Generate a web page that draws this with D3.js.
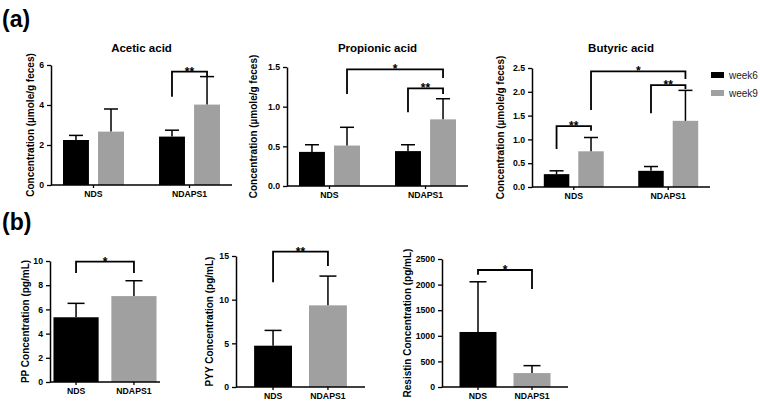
<!DOCTYPE html>
<html>
<head>
<meta charset="utf-8">
<script src="https://cdn.jsdelivr.net/npm/d3@7"></script>
<style>
  body { margin: 0; background: #fff; }
  svg { display: block; font-family: "Liberation Sans", Arial, sans-serif; }
</style>
</head>
<body>
<div id="chart"></div>
<script>
// ---- data ----
const groups = ["NDS", "NDAPS1"];
const weeks = ["week6", "week9"];

const aceticW6 = [2.25, 2.42];
const aceticW9 = [2.67, 4.02];
const aceticW6Err = [0.23, 0.32];
const aceticW9Err = [1.13, 1.40];

const propionicW6 = [0.43, 0.44];
const propionicW9 = [0.51, 0.84];
const propionicW6Err = [0.09, 0.08];
const propionicW9Err = [0.23, 0.26];

const butyricW6 = [0.27, 0.34];
const butyricW9 = [0.75, 1.39];
const butyricW6Err = [0.07, 0.09];
const butyricW9Err = [0.29, 0.64];

const ppMean = [5.35, 7.1];
const ppErr = [1.15, 1.27];
const pyyMean = [4.73, 9.35];
const pyyErr = [1.75, 3.35];
const resistinMean = [1075, 272];
const resistinErr = [980, 145];

// brackets: [from(group,series), to(group,series), level, leftLeg, rightLeg, label]
const aceticSig = [[[1,0],[1,1],5.67,4.41,5.4,"**"]];
const propionicSig = [[[0,1],[1,1],1.47,1.16,1.36,"*"],[[1,0],[1,1],1.23,0.93,1.16,"**"]];
const butyricSig = [[[0,0],[0,1],1.28,0.8,1.18,"**"],[[0,1],[1,1],2.43,1.62,2.27,"*"],[[1,0],[1,1],2.14,1.55,2.06,"**"]];
const ppSig = [[[0,0],[1,0],9.95,9.0,9.0,"*"]];
const pyySig = [[[0,0],[1,0],15.5,12.0,13.85,"**"]];
const resistinSig = [[[0,0],[1,0],2285,2190,1915,"*"]];

const colors = {week6: "#000000", week9: "#a0a0a0"};

const W = 760, H = 404;
const svg = d3.select("#chart").append("svg")
    .attr("width", W).attr("height", H);

svg.append("text").attr("x", 2).attr("y", 27)
    .attr("font-size", 23).attr("font-weight", "bold").text("(a)");
svg.append("text").attr("x", 2).attr("y", 230)
    .attr("font-size", 23).attr("font-weight", "bold").text("(b)");

// grouped bar chart (panel a)
function groupedChart(cfg){
    const g = svg.append("g");
    const x = d3.scaleBand().domain(groups).range([cfg.x0, cfg.x1])
        .paddingInner(0.365).paddingOuter(0.125);
    const xi = d3.scaleBand().domain(weeks).range([0, x.bandwidth()]).paddingInner(0.26);
    const y = d3.scaleLinear().domain([0, cfg.max]).range([cfg.y1, cfg.y0]);

    const rows = [];
    groups.forEach((grp, i) => {
        rows.push({grp, wk: "week6", v: cfg.w6[i], e: cfg.w6e[i]});
        rows.push({grp, wk: "week9", v: cfg.w9[i], e: cfg.w9e[i]});
    });
    const cx = d => x(d.grp) + xi(d.wk) + xi.bandwidth()/2;

    drawBarsAndAxes(g, rows, x, y, cfg, d => x(d.grp) + xi(d.wk), xi.bandwidth(), cx, 7);

    const pos = (p) => x(groups[p[0]]) + xi(weeks[p[1]]) + xi.bandwidth()/2;
    drawSig(g, cfg.sig, pos, y);

    g.append("text").attr("x", (cfg.x0 + cfg.x1)/2).attr("y", 52)
        .attr("text-anchor", "middle").attr("font-size", 11.5).attr("font-weight", "bold")
        .text(cfg.title);
}

// single bar chart (panel b)
function simpleChart(cfg){
    const g = svg.append("g");
    const x = d3.scaleBand().domain(groups).range([cfg.x0, cfg.x1])
        .paddingInner(cfg.pi).paddingOuter(cfg.po);
    const y = d3.scaleLinear().domain([0, cfg.max]).range([cfg.y1, cfg.y0]);
    const rows = groups.map((grp, i) => ({grp, wk: weeks[i], v: cfg.mean[i], e: cfg.err[i]}));
    const cx = d => x(d.grp) + x.bandwidth()/2;

    drawBarsAndAxes(g, rows, x, y, cfg, d => x(d.grp), x.bandwidth(), cx, 8.5);

    const pos = (p) => x(groups[p[0]]) + x.bandwidth()/2;
    drawSig(g, cfg.sig, pos, y);
}

function drawBarsAndAxes(g, rows, x, y, cfg, bx, bw, cx, cap){
    g.selectAll(".bar").data(rows).join("rect")
        .attr("class", "bar")
        .attr("x", bx).attr("width", bw)
        .attr("y", d => y(d.v)).attr("height", d => y(0) - y(d.v))
        .attr("fill", d => colors[d.wk]);

    // error bars (upper only)
    const eb = g.selectAll(".err").data(rows).join("g").attr("class", "err")
        .attr("stroke", "#000").attr("stroke-width", 1.5);
    eb.append("line")
        .attr("x1", cx).attr("x2", cx)
        .attr("y1", d => y(d.v)).attr("y2", d => y(d.v + d.e));
    eb.append("line")
        .attr("x1", d => cx(d) - cap).attr("x2", d => cx(d) + cap)
        .attr("y1", d => y(d.v + d.e)).attr("y2", d => y(d.v + d.e));

    const yAxis = g.append("g")
        .attr("transform", `translate(${cfg.x0},0)`)
        .call(d3.axisLeft(y).tickValues(cfg.ticks).tickFormat(cfg.fmt).tickSize(4).tickSizeOuter(0));
    const xAxis = g.append("g")
        .attr("transform", `translate(0,${cfg.y1})`)
        .call(d3.axisBottom(x).tickSize(3).tickSizeOuter(0).tickPadding(3));
    [yAxis, xAxis].forEach(a => {
        a.select(".domain").attr("stroke-width", 1.5);
        a.selectAll(".tick line").attr("stroke-width", 1.3);
        a.selectAll("text").attr("font-size", 8.7).attr("font-weight", "bold")
            .attr("font-family", "Liberation Sans, Arial, sans-serif").attr("fill", "#000");
    });
    // extend x axis to meet y axis
    xAxis.select(".domain").attr("d", `M${cfg.x0},0H${cfg.x1}`);

    g.append("text")
        .attr("transform", `translate(${cfg.labelX},${(cfg.y0 + cfg.y1)/2}) rotate(-90)`)
        .attr("text-anchor", "middle").attr("font-size", 10).attr("font-weight", "bold")
        .text(cfg.yLabel);
}

function drawSig(g, sig, pos, y){
    sig.forEach(s => {
        const xa = pos(s[0]), xb = pos(s[1]);
        g.append("path")
            .attr("d", `M${xa},${y(s[3])}V${y(s[2])}H${xb}V${y(s[4])}`)
            .attr("fill", "none").attr("stroke", "#000").attr("stroke-width", 1.8);
        g.append("text").attr("x", (xa + xb)/2).attr("y", y(s[2]) + 4)
            .attr("text-anchor", "middle").attr("font-size", 12).attr("font-weight", "bold")
            .text(s[5]);
    });
}

const acidLabel = "Concentration (\u00b5mole/g feces)";

groupedChart({title: "Acetic acid", x0: 51, x1: 232, y0: 65, y1: 185, max: 6,
    ticks: [0, 2, 4, 6], fmt: d3.format("d"), labelX: 34, yLabel: acidLabel,
    w6: aceticW6, w9: aceticW9, w6e: aceticW6Err, w9e: aceticW9Err, sig: aceticSig});
groupedChart({title: "Propionic acid", x0: 287, x1: 468, y0: 67, y1: 186, max: 1.5,
    ticks: [0, 0.5, 1, 1.5], fmt: d3.format(".1f"), labelX: 257, yLabel: acidLabel,
    w6: propionicW6, w9: propionicW9, w6e: propionicW6Err, w9e: propionicW9Err, sig: propionicSig});
groupedChart({title: "Butyric acid", x0: 532, x1: 710, y0: 68, y1: 187, max: 2.5,
    ticks: [0, 0.5, 1, 1.5, 2, 2.5], fmt: d3.format(".1f"), labelX: 504, yLabel: acidLabel,
    w6: butyricW6, w9: butyricW9, w6e: butyricW6Err, w9e: butyricW9Err, sig: butyricSig});

simpleChart({x0: 50, x1: 160, y0: 261, y1: 382, max: 10, pi: 0.22, po: 0.06,
    ticks: [0, 2, 4, 6, 8, 10], fmt: d3.format("d"), labelX: 29, yLabel: "PP Concentration (pg/mL)",
    mean: ppMean, err: ppErr, sig: ppSig});
simpleChart({x0: 236, x1: 365, y0: 256, y1: 387, max: 15, pi: 0.31, po: 0.33,
    ticks: [0, 5, 10, 15], fmt: d3.format("d"), labelX: 213, yLabel: "PYY Concentration (pg/mL)",
    mean: pyyMean, err: pyyErr, sig: pyySig});
simpleChart({x0: 442, x1: 568, y0: 259, y1: 387, max: 2500, pi: 0.315, po: 0.324,
    ticks: [0, 500, 1000, 1500, 2000, 2500], fmt: d3.format("d"), labelX: 411, yLabel: "Resistin Concentration (pg/mL)",
    mean: resistinMean, err: resistinErr, sig: resistinSig});

// legend
const lg = svg.append("g").attr("transform", "translate(711,72)");
weeks.forEach((wk, i) => {
    lg.append("rect").attr("x", 0).attr("y", i * 18).attr("width", 13).attr("height", 6)
        .attr("fill", colors[wk]);
    lg.append("text").attr("x", 18).attr("y", i * 18 + 7)
        .attr("font-size", 10).attr("fill", "#222").text(wk);
});
</script>
</body>
</html>
